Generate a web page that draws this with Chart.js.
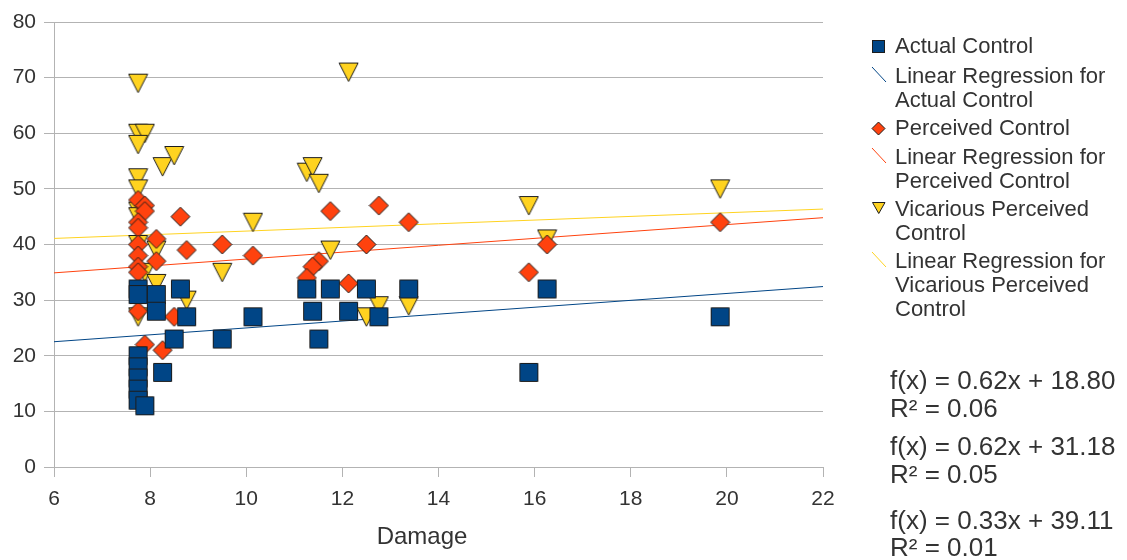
<!DOCTYPE html>
<html>
<head>
<meta charset="utf-8">
<script src="https://cdn.jsdelivr.net/npm/chart.js@4"></script>
<style>
  body { margin: 0; background: #fff; }
  #wrap { position: relative; width: 1127px; height: 560px; font-family: 'Liberation Sans', Arial, sans-serif; color: #333; }
  #chart { position: absolute; left: 0; top: 0; }
  .lg { position: absolute; left: 895px; font-size: 22px; line-height: 24px; white-space: nowrap; }
  .ico { position: absolute; left: 871px; }
  .eq { position: absolute; left: 890px; font-size: 26px; line-height: 28px; white-space: nowrap; }
  #xtitle { position: absolute; left: 322px; top: 522px; width: 200px; text-align: center; font-size: 24px; line-height: 28px; }
</style>
</head>
<body>
<div id="wrap">
  <canvas id="chart" width="1127" height="560"></canvas>

  <svg class="ico" style="top:39px" width="16" height="16"><rect x="1.5" y="1.5" width="12" height="12" fill="#004586" stroke="#1c1c1c"/></svg>
  <div class="lg" style="top:34px">Actual Control</div>
  <svg class="ico" style="top:66px" width="16" height="17"><line x1="1" y1="1" x2="15" y2="16" stroke="#004586"/></svg>
  <div class="lg" style="top:64px">Linear Regression for<br>Actual Control</div>
  <svg class="ico" style="top:121px" width="16" height="15"><polygon points="7.5,1 14,7.5 7.5,14 1,7.5" fill="#ff420e" stroke="#1c1c1c"/></svg>
  <div class="lg" style="top:116px">Perceived Control</div>
  <svg class="ico" style="top:147px" width="16" height="17"><line x1="1" y1="1" x2="15" y2="16" stroke="#ff420e"/></svg>
  <div class="lg" style="top:145px">Linear Regression for<br>Perceived Control</div>
  <svg class="ico" style="top:201px" width="16" height="14"><polygon points="1.5,1.5 14,1.5 7.75,12.5" fill="#ffd320" stroke="#1c1c1c"/></svg>
  <div class="lg" style="top:197px">Vicarious Perceived<br>Control</div>
  <svg class="ico" style="top:251px" width="16" height="17"><line x1="1" y1="1" x2="15" y2="16" stroke="#ffd320"/></svg>
  <div class="lg" style="top:249px">Linear Regression for<br>Vicarious Perceived<br>Control</div>

  <div class="eq" style="top:366px">f(x) = 0.62x + 18.80</div>
  <div class="eq" style="top:394px">R² = 0.06</div>
  <div class="eq" style="top:432px">f(x) = 0.62x + 31.18</div>
  <div class="eq" style="top:460px">R² = 0.05</div>
  <div class="eq" style="top:506px">f(x) = 0.33x + 39.11</div>
  <div class="eq" style="top:533px">R² = 0.01</div>

  <div id="xtitle">Damage</div>
</div>

<script>
// values
const actualX = [7.75, 7.75, 7.75, 7.75, 7.75, 7.75, 7.75, 7.89, 8.13, 8.13, 8.26, 8.5, 8.63, 8.76, 9.5, 10.14,
  11.26, 11.38, 11.51, 11.75, 12.13, 12.5, 12.76, 13.38, 15.88, 16.26, 19.86];
const actualY = [32, 31, 20, 18, 16, 14, 12, 11, 31, 28, 17, 23, 32, 27, 23, 27,
  32, 28, 23, 32, 28, 32, 27, 32, 17, 32, 27];

const perceivedX = [7.75, 7.89, 7.89, 7.75, 7.75, 8.63, 8.13, 8.76, 7.75, 7.75, 9.5, 10.14, 8.13, 7.75, 7.75,
  7.75, 8.5, 7.89, 8.26, 11.75, 12.76, 13.38, 12.5, 11.51, 11.38, 11.26, 12.13, 16.26, 15.88, 19.86];
const perceivedY = [48, 47, 46, 44, 43, 45, 41, 39, 40, 38, 40, 38, 37, 36, 35,
  28, 27, 22, 21, 46, 47, 44, 40, 37, 36, 34, 33, 40, 35, 44];

const vicariousX = [7.75, 7.75, 7.89, 7.75, 8.26, 8.5, 7.75, 7.75, 7.75, 7.75, 7.75, 8.13, 7.89, 8.13, 7.75,
  8.76, 9.5, 10.14, 11.26, 11.38, 11.51, 11.75, 12.13, 12.5, 12.76, 13.38, 15.88, 16.26, 19.86];
const vicariousY = [69, 60, 60, 58, 54, 56, 52, 50, 46, 45, 40, 39, 35, 33, 27,
  30, 35, 44, 53, 54, 51, 39, 71, 27, 29, 29, 47, 41, 50];

// trend line coefficients as printed on the chart
const trendSlopes = [0.62, 0.62, 0.33];
const trendIntercepts = [18.80, 31.18, 39.11];
const xTicks = [6, 22];

const blue = '#004586', orange = '#ff420e', yellow = '#ffd320';
const font = "'Liberation Sans', Arial, sans-serif";

function marker(shape, size, fill) {
  const c = document.createElement('canvas');
  c.width = size + 2;
  c.height = size + 2;
  const g = c.getContext('2d');
  const s = size, o = 1;
  g.beginPath();
  if (shape === 'square') {
    g.rect(o + 0.5, o + 0.5, s - 1, s - 1);
  } else if (shape === 'diamond') {
    g.moveTo(o + s / 2, o);
    g.lineTo(o + s, o + s / 2);
    g.lineTo(o + s / 2, o + s);
    g.lineTo(o, o + s / 2);
    g.closePath();
  } else {
    g.moveTo(o, o + 0.5);
    g.lineTo(o + s, o + 0.5);
    g.lineTo(o + s / 2, o + s);
    g.closePath();
  }
  g.fillStyle = fill;
  g.fill();
  g.lineWidth = 1;
  g.strokeStyle = '#1c1c1c';
  g.stroke();
  return c;
}

function points(xs, ys) {
  return xs.map((x, i) => ({ x: x, y: ys[i] }));
}

function trend(i) {
  return xTicks.map(x => ({ x: x, y: trendSlopes[i] * x + trendIntercepts[i] }));
}

const ctx = document.getElementById('chart').getContext('2d');
new Chart(ctx, {
  type: 'scatter',
  data: {
    datasets: [
      { label: 'Actual Control', data: points(actualX, actualY), pointStyle: marker('square', 19, blue) },
      { label: 'Perceived Control', data: points(perceivedX, perceivedY), pointStyle: marker('diamond', 19, orange) },
      { label: 'Vicarious Perceived Control', data: points(vicariousX, vicariousY), pointStyle: marker('triangle', 19, yellow) },
      { label: 'Linear Regression for Actual Control', data: trend(0), showLine: true, pointRadius: 0, borderColor: blue, borderWidth: 1 },
      { label: 'Linear Regression for Perceived Control', data: trend(1), showLine: true, pointRadius: 0, borderColor: orange, borderWidth: 1 },
      { label: 'Linear Regression for Vicarious Perceived Control', data: trend(2), showLine: true, pointRadius: 0, borderColor: yellow, borderWidth: 1 }
    ]
  },
  options: {
    responsive: false,
    animation: false,
    events: [],
    layout: { padding: { left: 0, right: 304, top: 22, bottom: 0 } },
    plugins: {
      legend: { display: false },
      tooltip: { enabled: false }
    },
    scales: {
      x: {
        type: 'linear',
        min: 6,
        max: 22,
        ticks: { stepSize: 2, color: '#333', font: { family: font, size: 21 }, padding: 10 },
        grid: { drawOnChartArea: false, color: '#b3b3b3', tickLength: 10 },
        border: { color: '#b3b3b3' },
        afterFit: s => { s.height = 93; }
      },
      y: {
        min: 0,
        max: 80,
        ticks: { stepSize: 10, color: '#333', font: { family: font, size: 21 }, padding: 8 },
        grid: { color: '#b3b3b3', tickLength: 10 },
        border: { color: '#b3b3b3' },
        afterFit: s => { s.width = 54; }
      }
    }
  }
});
</script>
</body>
</html>
